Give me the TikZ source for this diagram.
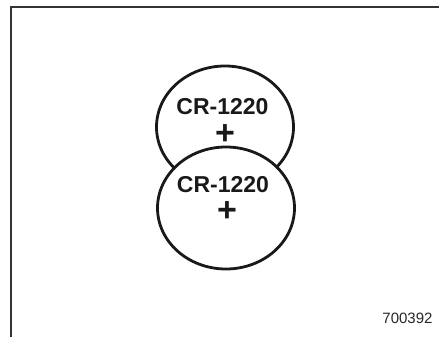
\documentclass[tikz,border=0pt]{standalone}
\usepackage{fontspec}
\setmainfont{Liberation Sans}
\usetikzlibrary{shapes.geometric}
\begin{document}
\begin{tikzpicture}[x=1pt,y=-1pt,
  cell/.style={ellipse,draw=black!90,line width=2.8pt,fill=white,inner sep=0pt,minimum width=137pt,minimum height=122pt},
  label/.style={font=\fontsize{23}{23}\selectfont\bfseries,text=black!90,inner sep=0pt},
  plus/.style={font=\fontsize{34}{34}\selectfont\bfseries,text=black!90,inner sep=0pt,text height=17pt,text depth=0pt,anchor=base},
  frame/.style={draw=black!80,line width=1.6pt}]
\useasboundingbox (0,0) rectangle (439,337);
\coordinate (fl) at (11,337);
\coordinate (fc) at (11,7);
\coordinate (fr) at (439,7);
\draw[frame] (fl) -- (fc) -- (fr);
\node[cell] (top) at (225,127) {};
\node[cell] (bot) at (226,208) {};
\node[label] (t1) at (222.5,107) {CR-1220};
\node[plus] (p1) at (225,144) {+};
\node[label] (t2) at (223,184.5) {CR-1220};
\node[plus] (p2) at (227,221.5) {+};
\node[font=\fontsize{15}{15}\selectfont,text=black!85,inner sep=0pt] (code) at (407.5,318.5) {700392};
\end{tikzpicture}
\end{document}
